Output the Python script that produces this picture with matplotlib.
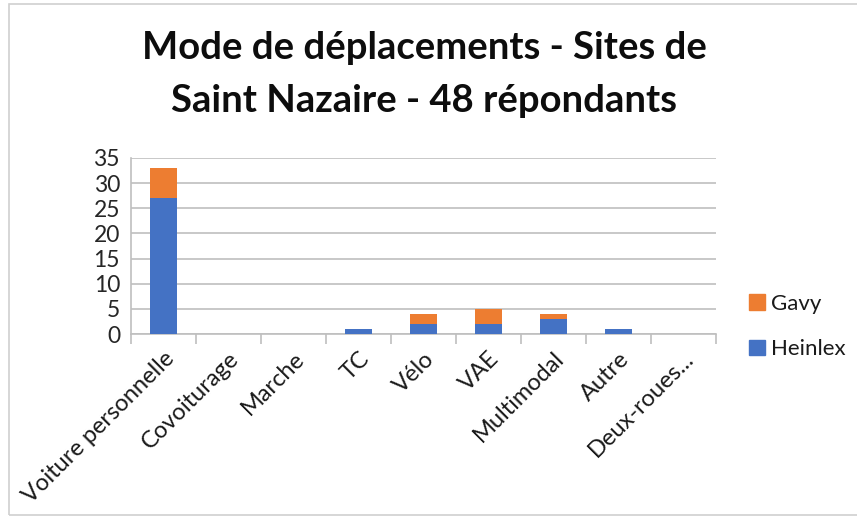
import matplotlib.pyplot as plt
from matplotlib.patches import Rectangle, Patch
import numpy as np

# Data
categories = ["Voiture personnelle", "Covoiturage", "Marche", "TC", "Vélo",
              "VAE", "Multimodal", "Autre", "Deux-roues..."]
heinlex = [27, 0, 0, 1, 2, 2, 3, 1, 0]
gavy = [6, 0, 0, 0, 2, 3, 1, 0, 0]

blue = "#4472C4"
orange = "#ED7D31"
grid_gray = "#BFBFBF"

plt.rcParams['font.family'] = ['Lato', 'DejaVu Sans']

fig = plt.figure(figsize=(8.57, 5.18), dpi=100)
ax = fig.add_axes([0.153, 0.355, 0.682, 0.340])

x = np.arange(len(categories))
ax.bar(x, heinlex, width=0.42, color=blue, zorder=3)
ax.bar(x, gavy, width=0.42, bottom=heinlex, color=orange, zorder=3)

ax.set_xlim(-0.5, len(categories) - 0.5)
ax.set_ylim(0, 35)
ax.set_yticks(range(0, 36, 5))
ax.yaxis.grid(True, color=grid_gray, linewidth=1.2, zorder=0)
ax.tick_params(axis='y', length=0, labelsize=16.5, colors="#262626", pad=8)

# category boundary ticks
ax.set_xticks(np.arange(-0.5, len(categories), 1.0))
ax.set_xticklabels([])
ax.tick_params(axis='x', which='major', length=7, color=grid_gray, width=1.2)
ax.set_xticks(x, minor=True)
ax.set_xticklabels(categories, minor=True, rotation=45, ha='right',
                   rotation_mode='anchor', fontsize=17, color="#1A1A1A")
ax.tick_params(axis='x', which='minor', length=0, pad=10)

for s in ['top', 'right']:
    ax.spines[s].set_visible(False)
for s in ['left', 'bottom']:
    ax.spines[s].set_color(grid_gray)
    ax.spines[s].set_linewidth(1.2)

fig.text(0.495, 0.907, "Mode de déplacements - Sites de", ha='center', va='center',
         fontsize=27.5, fontweight='bold', color="#0D0D0D")
fig.text(0.495, 0.805, "Saint Nazaire - 48 répondants", ha='center', va='center',
         fontsize=27.5, fontweight='bold', color="#0D0D0D")

handles = [Patch(color=orange, label="Gavy"), Patch(color=blue, label="Heinlex")]
fig.legend(handles=handles, loc='center left', bbox_to_anchor=(0.874, 0.370),
           frameon=False, fontsize=16, handlelength=0.7, handleheight=0.7,
           handletextpad=0.3, labelspacing=1.15, labelcolor="#1A1A1A",
           borderaxespad=0, borderpad=0)

# thin chart border
fig.patches.append(Rectangle((0.011, 0.006), 1.2, 0.986, transform=fig.transFigure,
                             fill=False, edgecolor="#D0D0D0", linewidth=1.2))

fig.savefig("out.png", dpi=100)
